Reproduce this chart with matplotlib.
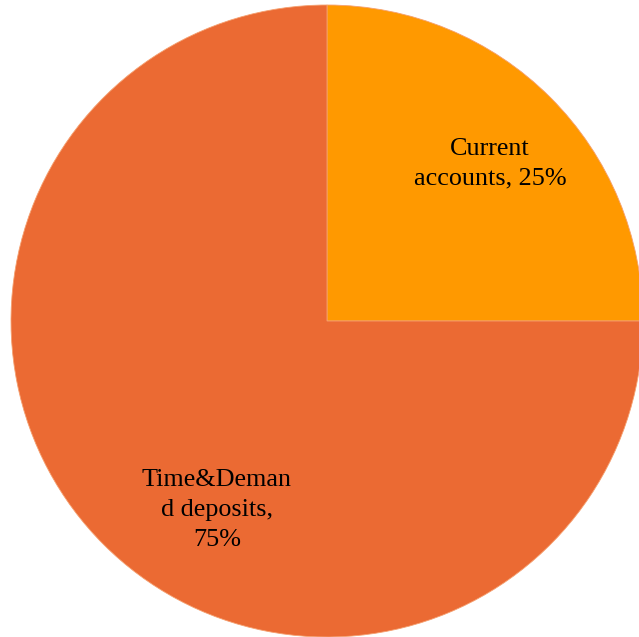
import matplotlib.pyplot as plt

# deposit shares
labels = ['Current\naccounts, 25%', 'Time&Deman\nd deposits,\n75%']
shares = [25, 75]
colors = ['#FF9900', '#EB6A33']

W, H = 639, 637
fig = plt.figure(figsize=(W / 100, H / 100), dpi=100)
ax = fig.add_axes([0, 0, 1, 1])

# pie in pixel units so it can run off the right edge like the original
center = (327, H - 321)
radius = 316
ax.pie(shares, colors=colors, startangle=90, counterclock=False,
       center=center, radius=radius, frame=True,
       wedgeprops=dict(edgecolor='#F5A070', linewidth=0.6))
ax.set_xlim(0, W)
ax.set_ylim(0, H)
ax.set_aspect('auto')
ax.axis('off')

# label positions (pixel coords from top-left)
label_pos = [(490, 164), (217, 510)]
for text, (x, y) in zip(labels, label_pos):
    ax.text(x, H - y, text, ha='center', va='center', fontsize=18.8,
            family='Liberation Serif', linespacing=1.45, color='black')

fig.savefig('out.png', dpi=100)
